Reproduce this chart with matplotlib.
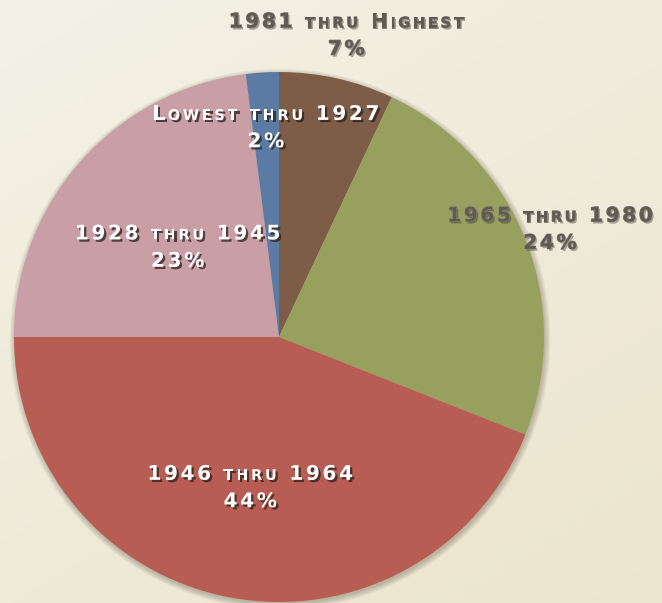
import numpy as np
import matplotlib
matplotlib.use("Agg")
import matplotlib.pyplot as plt
import matplotlib.patheffects as pe
from matplotlib.offsetbox import TextArea, HPacker, VPacker, AnnotationBbox

# data (clockwise from 12 o'clock)
labels = ["1981 thru Highest", "1965 thru 1980", "1946 thru 1964",
          "1928 thru 1945", "Lowest thru 1927"]
shares = [7, 24, 44, 23, 2]
colors = ["#7d5c48", "#98a05e", "#b75d53", "#c99ea5", "#5c7ba4"]
# where each label sits, as a fraction of the radius
label_dist = [1.165, 1.10, 0.58, 0.51, 0.79]
label_inside = [False, False, True, True, True]

W, H = 662, 603
CX, CY, R = 279, 337, 265   # pixel centre and radius of the pie
TRACK = 1.9                 # letter spacing in points


def spaced(s, props):
    # one TextArea per character so we can add some tracking
    return [TextArea(ch, textprops=props) for ch in s]


def small_caps(text, big, small, color, effects):
    bigp = dict(size=big, color=color, weight="bold", path_effects=effects)
    smallp = dict(size=small, color=color, weight="bold", path_effects=effects)
    parts = []
    for k, word in enumerate(text.split(" ")):
        if k > 0:
            parts += spaced(" ", bigp)
        if word[0].isdigit():
            parts += spaced(word, bigp)
        elif word[0].isupper():
            parts += spaced(word[0], bigp)
            parts += spaced(word[1:].upper(), smallp)
        else:
            parts += spaced(word.upper(), smallp)
    return HPacker(children=parts, align="baseline", pad=0, sep=TRACK)


def main():
    plt.rcParams["font.family"] = ["DejaVu Sans"]
    fig = plt.figure(figsize=(W / 100, H / 100), dpi=100)

    # paper-like background
    bg = fig.add_axes([0, 0, 1, 1], zorder=0)
    yy, xx = np.mgrid[0:1:200j, 0:1:200j]
    t = 0.6 * yy + 0.4 * xx
    top = np.array([0.955, 0.945, 0.905])
    bot = np.array([0.925, 0.900, 0.805])
    img = top[None, None, :] * (1 - t[..., None]) + bot[None, None, :] * t[..., None]
    bg.imshow(img, extent=[0, 1, 0, 1], aspect="auto", origin="upper")
    bg.axis("off")

    ax = fig.add_axes([0, 0, 1, 1], zorder=1)
    ax.patch.set_alpha(0)

    # soft shadow under the pie
    for k in range(6):
        ax.add_patch(plt.Circle((0.004, -0.008), 1 + 0.004 * k, color="#3a3020",
                                alpha=0.05, lw=0))

    wedges, _ = ax.pie(shares, colors=colors, startangle=90, counterclock=False,
                       radius=1, center=(0, 0), frame=True,
                       wedgeprops=dict(linewidth=0))
    ax.set_xlim(-CX / R, (W - CX) / R)
    ax.set_ylim(-(H - CY) / R, CY / R)
    ax.set_aspect("auto")
    ax.axis("off")

    white_fx = [pe.withSimplePatchShadow(offset=(1.6, -1.6), shadow_rgbFace="#2a2018", alpha=0.75)]
    gray_fx = [pe.withSimplePatchShadow(offset=(1.2, -1.4), shadow_rgbFace="#1e1a14", alpha=0.35),
               pe.withStroke(linewidth=0.8, foreground="#8a857a")]

    for w, lab, pct, d, inside in zip(wedges, labels, shares, label_dist, label_inside):
        ang = np.deg2rad((w.theta1 + w.theta2) / 2)
        x, y = d * np.cos(ang), d * np.sin(ang)
        col = "white" if inside else "#5f5b53"
        fx = white_fx if inside else gray_fx
        line1 = small_caps(lab, 14.5, 10.5, col, fx)
        line2 = HPacker(children=spaced(f"{pct}%", dict(size=14.5, color=col, weight="bold",
                                                         path_effects=fx)),
                        align="baseline", pad=0, sep=TRACK)
        box = VPacker(children=[line1, line2], align="center", pad=0, sep=6)
        ab = AnnotationBbox(box, (x, y), frameon=False, box_alignment=(0.5, 0.5),
                            zorder=5)
        ax.add_artist(ab)

    fig.savefig("out.png", dpi=100)


if __name__ == "__main__":
    main()
